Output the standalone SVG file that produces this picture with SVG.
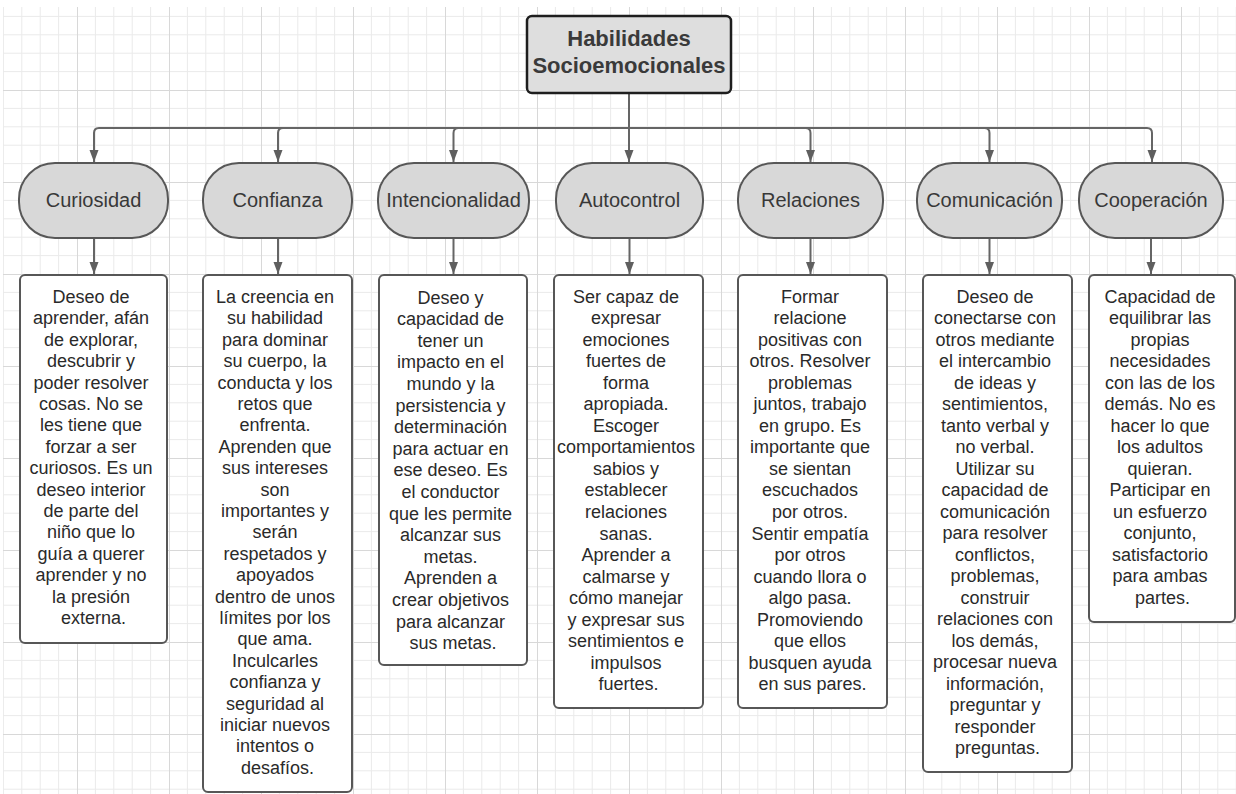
<svg xmlns="http://www.w3.org/2000/svg" width="1236" height="794" viewBox="0 0 1236 794">
<defs>
<pattern id="grid" patternUnits="userSpaceOnUse" x="-15" y="-2" width="92" height="92">
<path d="M18.4,0V92M36.8,0V92M55.2,0V92M73.6,0V92M0,18.4H92M0,36.8H92M0,55.2H92M0,73.6H92" stroke="#eaeaea" stroke-width="1" fill="none"/>
<path d="M0.5,0V92M0,0.5H92" stroke="#d8d8d8" stroke-width="1" fill="none"/>
</pattern>
<marker id="ah" markerUnits="userSpaceOnUse" markerWidth="12" markerHeight="16" viewBox="0 0 16 12" refX="16" refY="6" orient="auto">
<path d="M0,0 L16,6 L0,12 z" fill="#5f5f5f"/>
</marker>
</defs>
<style>
.pill{fill:#d8d8d8;stroke:#575757;stroke-width:2}
.box{fill:#ffffff;stroke:#575757;stroke-width:2}
.title{fill:#dedede;stroke:#1e1e1e;stroke-width:2.5}
.conn{fill:none;stroke:#656565;stroke-width:2;marker-end:url(#ah)}
.tt{font-family:"Liberation Sans",Arial,sans-serif;font-size:22px;font-weight:bold;fill:#3a3a3a;text-anchor:middle}
.pt{font-family:"Liberation Sans",Arial,sans-serif;font-size:20px;fill:#383838;text-anchor:middle}
.bt{font-family:"Liberation Sans",Arial,sans-serif;font-size:18px;fill:#2a2a2a;text-anchor:middle}
</style>
<rect width="1236" height="794" fill="#ffffff"/>
<rect x="3" y="7" width="1233" height="787" fill="url(#grid)"/>

<g id="connectors">
<path class="conn" d="M629,93V162"/>
<path class="conn" d="M629,128H99Q94,128 94,133V162"/>
<path class="conn" d="M629,128H283Q278,128 278,133V162"/>
<path class="conn" d="M629,128H458.5Q453.5,128 453.5,133V162"/>
<path class="conn" d="M629,128H805.5Q810.5,128 810.5,133V162"/>
<path class="conn" d="M629,128H984.5Q989.5,128 989.5,133V162"/>
<path class="conn" d="M629,128H1147Q1152,128 1152,133V162"/>
<path class="conn" d="M94,238V274"/>
<path class="conn" d="M278,238V274"/>
<path class="conn" d="M453.5,238V274"/>
<path class="conn" d="M629.5,238V274"/>
<path class="conn" d="M810.5,238V274"/>
<path class="conn" d="M989.5,238V274"/>
<path class="conn" d="M1151,238V274"/>
</g>

<g id="title">
<rect class="title" x="527" y="16" width="204" height="77" rx="5"/>
<text class="tt" x="629" y="45.5">Habilidades</text>
<text class="tt" x="629" y="72.5">Socioemocionales</text>
</g>

<g id="pill-curiosidad">
<rect class="pill" x="19" y="163" width="149" height="75" rx="36"/>
<text class="pt" x="93.5" y="207">Curiosidad</text>
</g>
<g id="pill-confianza">
<rect class="pill" x="203" y="163" width="149" height="75" rx="36"/>
<text class="pt" x="277.5" y="207">Confianza</text>
</g>
<g id="pill-intencionalidad">
<rect class="pill" x="378" y="163" width="151" height="75" rx="36"/>
<text class="pt" x="453.5" y="207">Intencionalidad</text>
</g>
<g id="pill-autocontrol">
<rect class="pill" x="556" y="163" width="147" height="75" rx="36"/>
<text class="pt" x="629.5" y="207">Autocontrol</text>
</g>
<g id="pill-relaciones">
<rect class="pill" x="738" y="163" width="145" height="75" rx="36"/>
<text class="pt" x="810.5" y="207">Relaciones</text>
</g>
<g id="pill-comunicacion">
<rect class="pill" x="917" y="163" width="145" height="75" rx="36"/>
<text class="pt" x="989.5" y="207">Comunicación</text>
</g>
<g id="pill-cooperacion">
<rect class="pill" x="1079" y="163" width="144" height="75" rx="36"/>
<text class="pt" x="1151" y="207">Cooperación</text>
</g>

<g id="box-curiosidad">
<rect class="box" x="20" y="275" width="147" height="368" rx="5"/>
<text class="bt" y="303">
<tspan x="93.5">Deseo de</tspan>
<tspan x="93.5" dy="21.4">aprender, afán</tspan>
<tspan x="93.5" dy="21.4">de explorar,</tspan>
<tspan x="93.5" dy="21.4">descubrir y</tspan>
<tspan x="93.5" dy="21.4">poder resolver</tspan>
<tspan x="93.5" dy="21.4">cosas. No se</tspan>
<tspan x="93.5" dy="21.4">les tiene que</tspan>
<tspan x="93.5" dy="21.4">forzar a ser</tspan>
<tspan x="93.5" dy="21.4">curiosos. Es un</tspan>
<tspan x="93.5" dy="21.4">deseo interior</tspan>
<tspan x="93.5" dy="21.4">de parte del</tspan>
<tspan x="93.5" dy="21.4">niño que lo</tspan>
<tspan x="93.5" dy="21.4">guía a querer</tspan>
<tspan x="93.5" dy="21.4">aprender y no</tspan>
<tspan x="93.5" dy="21.4">la presión</tspan>
<tspan x="93.5" dy="21.4">externa.</tspan>
</text>
</g>

<g id="box-confianza">
<rect class="box" x="203" y="275" width="149" height="517" rx="5"/>
<text class="bt" y="303">
<tspan x="277.5">La creencia en</tspan>
<tspan x="277.5" dy="21.4">su habilidad</tspan>
<tspan x="277.5" dy="21.4">para dominar</tspan>
<tspan x="277.5" dy="21.4">su cuerpo, la</tspan>
<tspan x="277.5" dy="21.4">conducta y los</tspan>
<tspan x="277.5" dy="21.4">retos que</tspan>
<tspan x="277.5" dy="21.4">enfrenta.</tspan>
<tspan x="277.5" dy="21.4">Aprenden que</tspan>
<tspan x="277.5" dy="21.4">sus intereses</tspan>
<tspan x="277.5" dy="21.4">son</tspan>
<tspan x="277.5" dy="21.4">importantes y</tspan>
<tspan x="277.5" dy="21.4">serán</tspan>
<tspan x="277.5" dy="21.4">respetados y</tspan>
<tspan x="277.5" dy="21.4">apoyados</tspan>
<tspan x="277.5" dy="21.4">dentro de unos</tspan>
<tspan x="277.5" dy="21.4">límites por los</tspan>
<tspan x="277.5" dy="21.4">que ama.</tspan>
<tspan x="277.5" dy="21.4">Inculcarles</tspan>
<tspan x="277.5" dy="21.4">confianza y</tspan>
<tspan x="277.5" dy="21.4">seguridad al</tspan>
<tspan x="277.5" dy="21.4">iniciar nuevos</tspan>
<tspan x="277.5" dy="21.4">intentos o</tspan>
<tspan x="277.5" dy="21.4">desafíos.</tspan>
</text>
</g>

<g id="box-intencionalidad">
<rect class="box" x="379" y="275" width="148" height="390" rx="5"/>
<text class="bt" y="303.5">
<tspan x="453">Deseo y</tspan>
<tspan x="453" dy="21.6">capacidad de</tspan>
<tspan x="453" dy="21.6">tener un</tspan>
<tspan x="453" dy="21.6">impacto en el</tspan>
<tspan x="453" dy="21.6">mundo y la</tspan>
<tspan x="453" dy="21.6">persistencia y</tspan>
<tspan x="453" dy="21.6">determinación</tspan>
<tspan x="453" dy="21.6">para actuar en</tspan>
<tspan x="453" dy="21.6">ese deseo. Es</tspan>
<tspan x="453" dy="21.6">el conductor</tspan>
<tspan x="453" dy="21.6">que les permite</tspan>
<tspan x="453" dy="21.6">alcanzar sus</tspan>
<tspan x="453" dy="21.6">metas.</tspan>
<tspan x="453" dy="21.6">Aprenden a</tspan>
<tspan x="453" dy="21.6">crear objetivos</tspan>
<tspan x="453" dy="21.6">para alcanzar</tspan>
<tspan x="453" dy="21.6">sus metas.</tspan>
</text>
</g>

<g id="box-autocontrol">
<rect class="box" x="554" y="275" width="149" height="433" rx="5"/>
<text class="bt" y="302.5">
<tspan x="628.5">Ser capaz de</tspan>
<tspan x="628.5" dy="21.55">expresar</tspan>
<tspan x="628.5" dy="21.55">emociones</tspan>
<tspan x="628.5" dy="21.55">fuertes de</tspan>
<tspan x="628.5" dy="21.55">forma</tspan>
<tspan x="628.5" dy="21.55">apropiada.</tspan>
<tspan x="628.5" dy="21.55">Escoger</tspan>
<tspan x="628.5" dy="21.55">comportamientos</tspan>
<tspan x="628.5" dy="21.55">sabios y</tspan>
<tspan x="628.5" dy="21.55">establecer</tspan>
<tspan x="628.5" dy="21.55">relaciones</tspan>
<tspan x="628.5" dy="21.55">sanas.</tspan>
<tspan x="628.5" dy="21.55">Aprender a</tspan>
<tspan x="628.5" dy="21.55">calmarse y</tspan>
<tspan x="628.5" dy="21.55">cómo manejar</tspan>
<tspan x="628.5" dy="21.55">y expresar sus</tspan>
<tspan x="628.5" dy="21.55">sentimientos e</tspan>
<tspan x="628.5" dy="21.55">impulsos</tspan>
<tspan x="628.5" dy="21.55">fuertes.</tspan>
</text>
</g>

<g id="box-relaciones">
<rect class="box" x="738" y="275" width="149" height="433" rx="5"/>
<text class="bt" y="302.5">
<tspan x="812.5">Formar</tspan>
<tspan x="812.5" dy="21.55">relacione</tspan>
<tspan x="812.5" dy="21.55">positivas con</tspan>
<tspan x="812.5" dy="21.55">otros. Resolver</tspan>
<tspan x="812.5" dy="21.55">problemas</tspan>
<tspan x="812.5" dy="21.55">juntos, trabajo</tspan>
<tspan x="812.5" dy="21.55">en grupo. Es</tspan>
<tspan x="812.5" dy="21.55">importante que</tspan>
<tspan x="812.5" dy="21.55">se sientan</tspan>
<tspan x="812.5" dy="21.55">escuchados</tspan>
<tspan x="812.5" dy="21.55">por otros.</tspan>
<tspan x="812.5" dy="21.55">Sentir empatía</tspan>
<tspan x="812.5" dy="21.55">por otros</tspan>
<tspan x="812.5" dy="21.55">cuando llora o</tspan>
<tspan x="812.5" dy="21.55">algo pasa.</tspan>
<tspan x="812.5" dy="21.55">Promoviendo</tspan>
<tspan x="812.5" dy="21.55">que ellos</tspan>
<tspan x="812.5" dy="21.55">busquen ayuda</tspan>
<tspan x="812.5" dy="21.55">en sus pares.</tspan>
</text>
</g>

<g id="box-comunicacion">
<rect class="box" x="923" y="275" width="149" height="497" rx="5"/>
<text class="bt" y="302.5">
<tspan x="997.5">Deseo de</tspan>
<tspan x="997.5" dy="21.5">conectarse con</tspan>
<tspan x="997.5" dy="21.5">otros mediante</tspan>
<tspan x="997.5" dy="21.5">el intercambio</tspan>
<tspan x="997.5" dy="21.5">de ideas y</tspan>
<tspan x="997.5" dy="21.5">sentimientos,</tspan>
<tspan x="997.5" dy="21.5">tanto verbal y</tspan>
<tspan x="997.5" dy="21.5">no verbal.</tspan>
<tspan x="997.5" dy="21.5">Utilizar su</tspan>
<tspan x="997.5" dy="21.5">capacidad de</tspan>
<tspan x="997.5" dy="21.5">comunicación</tspan>
<tspan x="997.5" dy="21.5">para resolver</tspan>
<tspan x="997.5" dy="21.5">conflictos,</tspan>
<tspan x="997.5" dy="21.5">problemas,</tspan>
<tspan x="997.5" dy="21.5">construir</tspan>
<tspan x="997.5" dy="21.5">relaciones con</tspan>
<tspan x="997.5" dy="21.5">los demás,</tspan>
<tspan x="997.5" dy="21.5">procesar nueva</tspan>
<tspan x="997.5" dy="21.5">información,</tspan>
<tspan x="997.5" dy="21.5">preguntar y</tspan>
<tspan x="997.5" dy="21.5">responder</tspan>
<tspan x="997.5" dy="21.5">preguntas.</tspan>
</text>
</g>

<g id="box-cooperacion">
<rect class="box" x="1089" y="275" width="146" height="347" rx="5"/>
<text class="bt" y="302.5">
<tspan x="1162.5">Capacidad de</tspan>
<tspan x="1162.5" dy="21.5">equilibrar las</tspan>
<tspan x="1162.5" dy="21.5">propias</tspan>
<tspan x="1162.5" dy="21.5">necesidades</tspan>
<tspan x="1162.5" dy="21.5">con las de los</tspan>
<tspan x="1162.5" dy="21.5">demás. No es</tspan>
<tspan x="1162.5" dy="21.5">hacer lo que</tspan>
<tspan x="1162.5" dy="21.5">los adultos</tspan>
<tspan x="1162.5" dy="21.5">quieran.</tspan>
<tspan x="1162.5" dy="21.5">Participar en</tspan>
<tspan x="1162.5" dy="21.5">un esfuerzo</tspan>
<tspan x="1162.5" dy="21.5">conjunto,</tspan>
<tspan x="1162.5" dy="21.5">satisfactorio</tspan>
<tspan x="1162.5" dy="21.5">para ambas</tspan>
<tspan x="1162.5" dy="21.5">partes.</tspan>
</text>
</g>
</svg>
